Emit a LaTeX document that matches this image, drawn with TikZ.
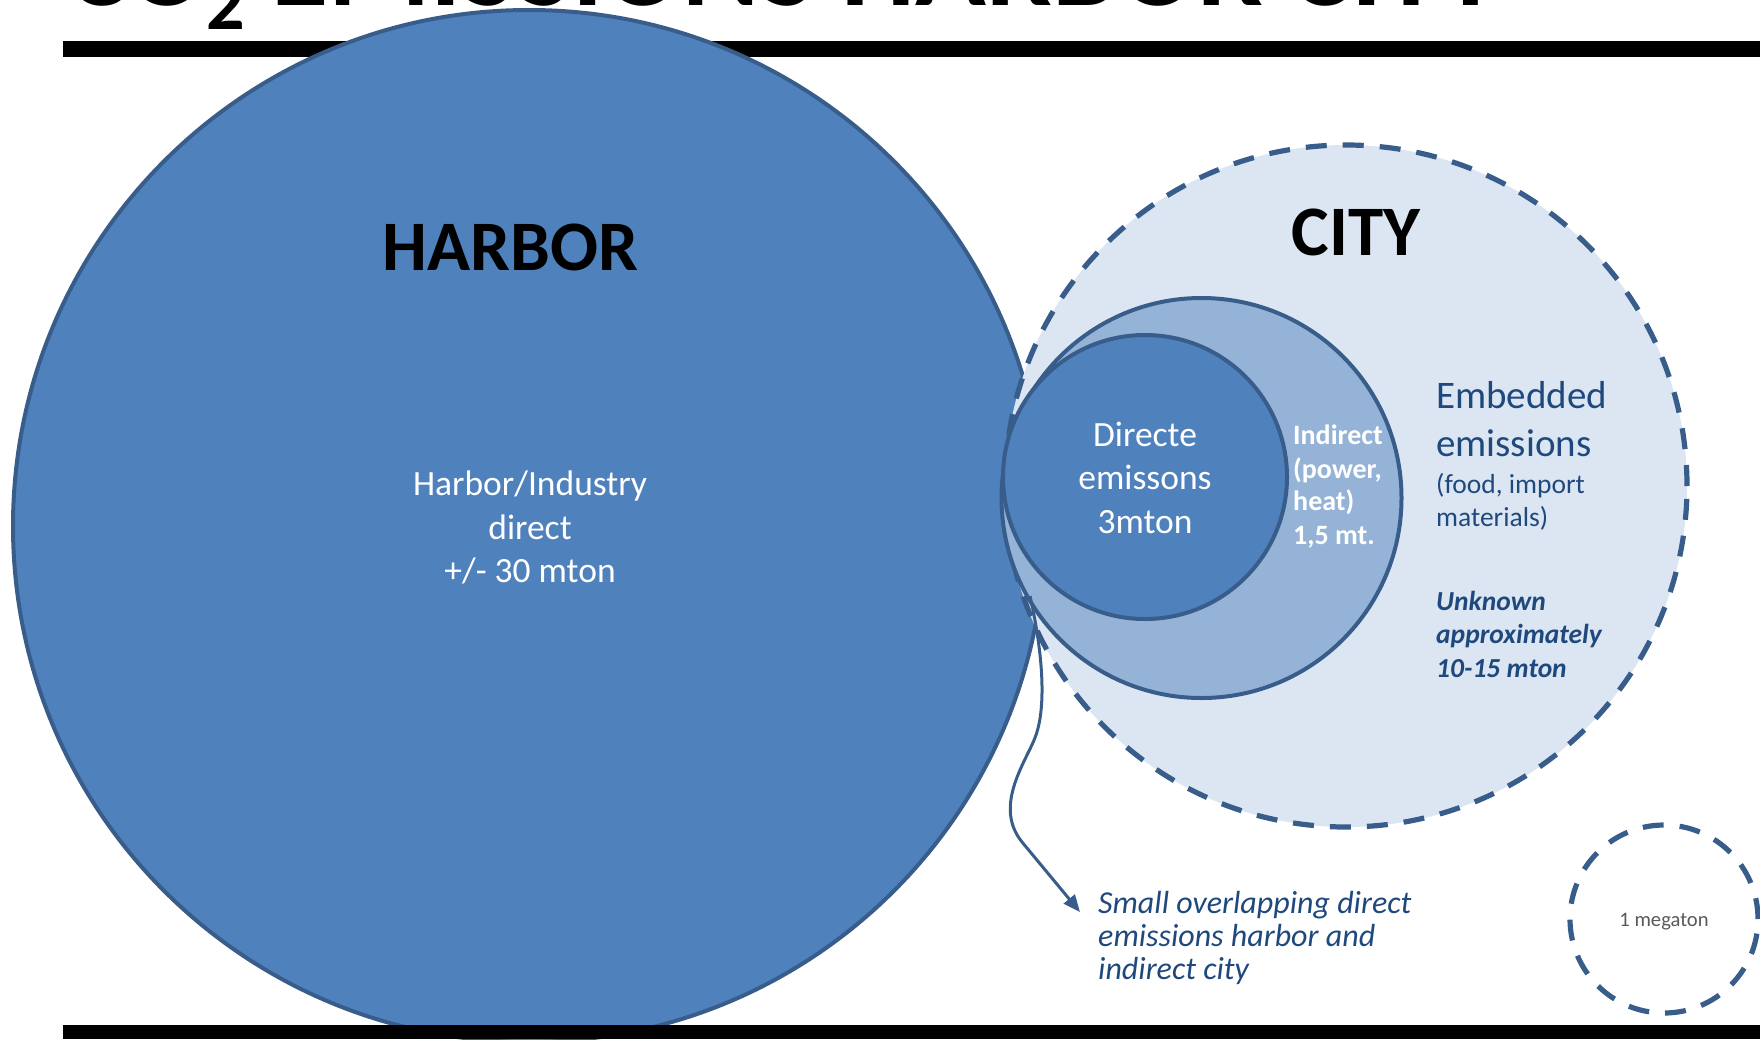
\documentclass[tikz,border=0pt]{standalone}
\usepackage{fontspec}
\setmainfont{Carlito}
\usetikzlibrary{arrows.meta}
\definecolor{hfill}{HTML}{4F81BD}
\definecolor{edgec}{HTML}{385D8A}
\definecolor{cfill}{HTML}{DCE6F2}
\definecolor{mfill}{HTML}{95B3D7}
\definecolor{dtext}{HTML}{1F497D}
\definecolor{gtext}{HTML}{595959}
\newcommand{\fsz}[1]{\fontsize{#1}{#1}\selectfont}
\begin{document}
\begin{tikzpicture}[x=1pt,y=-1pt,
  bub/.style={circle, draw=edgec, inner sep=0pt},
  dashedge/.style={line width=5.2pt, dash pattern=on 21pt off 16pt},
  ctxt/.style={inner sep=0pt, anchor=base},
  ltxt/.style={inner sep=0pt, anchor=base west, text=dtext},
  wtxt/.style={ctxt, text=white, font=\fsz{35.5}},
  itxt/.style={inner sep=0pt, anchor=base west, text=white, font=\bfseries\fsz{28}},
  bar/.style={fill=black},
  arr/.style={draw=edgec, line width=3pt, -{Triangle[length=17pt,width=14pt]}}]
\useasboundingbox (0,0) rectangle (1760,1039);
% title (cut off at top, as in the reference)
\node[inner sep=0pt, anchor=base west, font=\bfseries\fsz{117}] (title) at (66,5)
  {CO\raisebox{-24pt}{\fsz{76}2} EMISSIONS HARBOR CITY};
\fill[bar] (63,41) rectangle (1760,57);
% circles
\node[bub, fill=hfill, line width=4pt, minimum size=1032pt] (harbor) at (529,526) {};
\node[bub, fill=cfill, dashedge, minimum size=682pt] (city) at (1346,486) {};
\node[bub, fill=mfill, line width=4pt, minimum size=400pt] (indir) at (1201.5,498) {};
\node[bub, fill=hfill, line width=4pt, minimum size=284pt] (direct) at (1145,477) {};
% arrow
\coordinate (as) at (1030,596);
\coordinate (ae) at (1080,912);
\draw[arr] (as) .. controls (1040,640) and (1048,700) .. (1036,735)
  .. controls (1028,759) and (992,805) .. (1022,842) -- (ae);
\fill[bar] (63,1025) rectangle (1760,1039);
% 1 megaton
\node[bub, dashedge, minimum size=188pt] (mega) at (1664,919) {};
\node[ctxt, text=gtext, font=\fsz{20.6}] (megatxt) at (1664,926) {1 megaton};
% harbor texts
\node[ctxt, font=\bfseries\fsz{71}] (harbortitle) at (510.5,270) {HARBOR};
\node[wtxt] (h1) at (530,495) {Harbor/Industry};
\node[wtxt] (h2) at (530,539) {direct};
\node[wtxt] (h3) at (530,582) {+/- 30 mton};
% city texts
\node[ctxt, font=\bfseries\fsz{71}] (citytitle) at (1356,255) {CITY};
\node[wtxt] (d1) at (1145,446) {Directe};
\node[wtxt] (d2) at (1145,489) {emissons};
\node[wtxt] (d3) at (1145,533) {3mton};
\node[itxt] (i1) at (1293,444) {Indirect};
\node[itxt] (i2) at (1293,478) {(power,};
\node[itxt] (i3) at (1293,510) {heat)};
\node[itxt] (i4) at (1293,544) {1,5 mt.};
\node[ltxt, font=\fsz{39}] (e1) at (1436,408) {Embedded};
\node[ltxt, font=\fsz{39}] (e2) at (1436,456) {emissions};
\node[ltxt, font=\fsz{27.5}] (f1) at (1436,493) {(food, import};
\node[ltxt, font=\fsz{27.5}] (f2) at (1436,526) {materials)};
\node[ltxt, font=\bfseries\itshape\fsz{27.5}] (u1) at (1436,610) {Unknown};
\node[ltxt, font=\bfseries\itshape\fsz{27.5}] (u2) at (1436,643) {approximately};
\node[ltxt, font=\bfseries\itshape\fsz{27.5}] (u3) at (1436,677) {10-15 mton};
% note
\node[ltxt, font=\itshape\fsz{32}] (n1) at (1098,913) {Small overlapping direct};
\node[ltxt, font=\itshape\fsz{32}] (n2) at (1098,946) {emissions harbor and};
\node[ltxt, font=\itshape\fsz{32}] (n3) at (1098,979) {indirect city};
\end{tikzpicture}
\end{document}
